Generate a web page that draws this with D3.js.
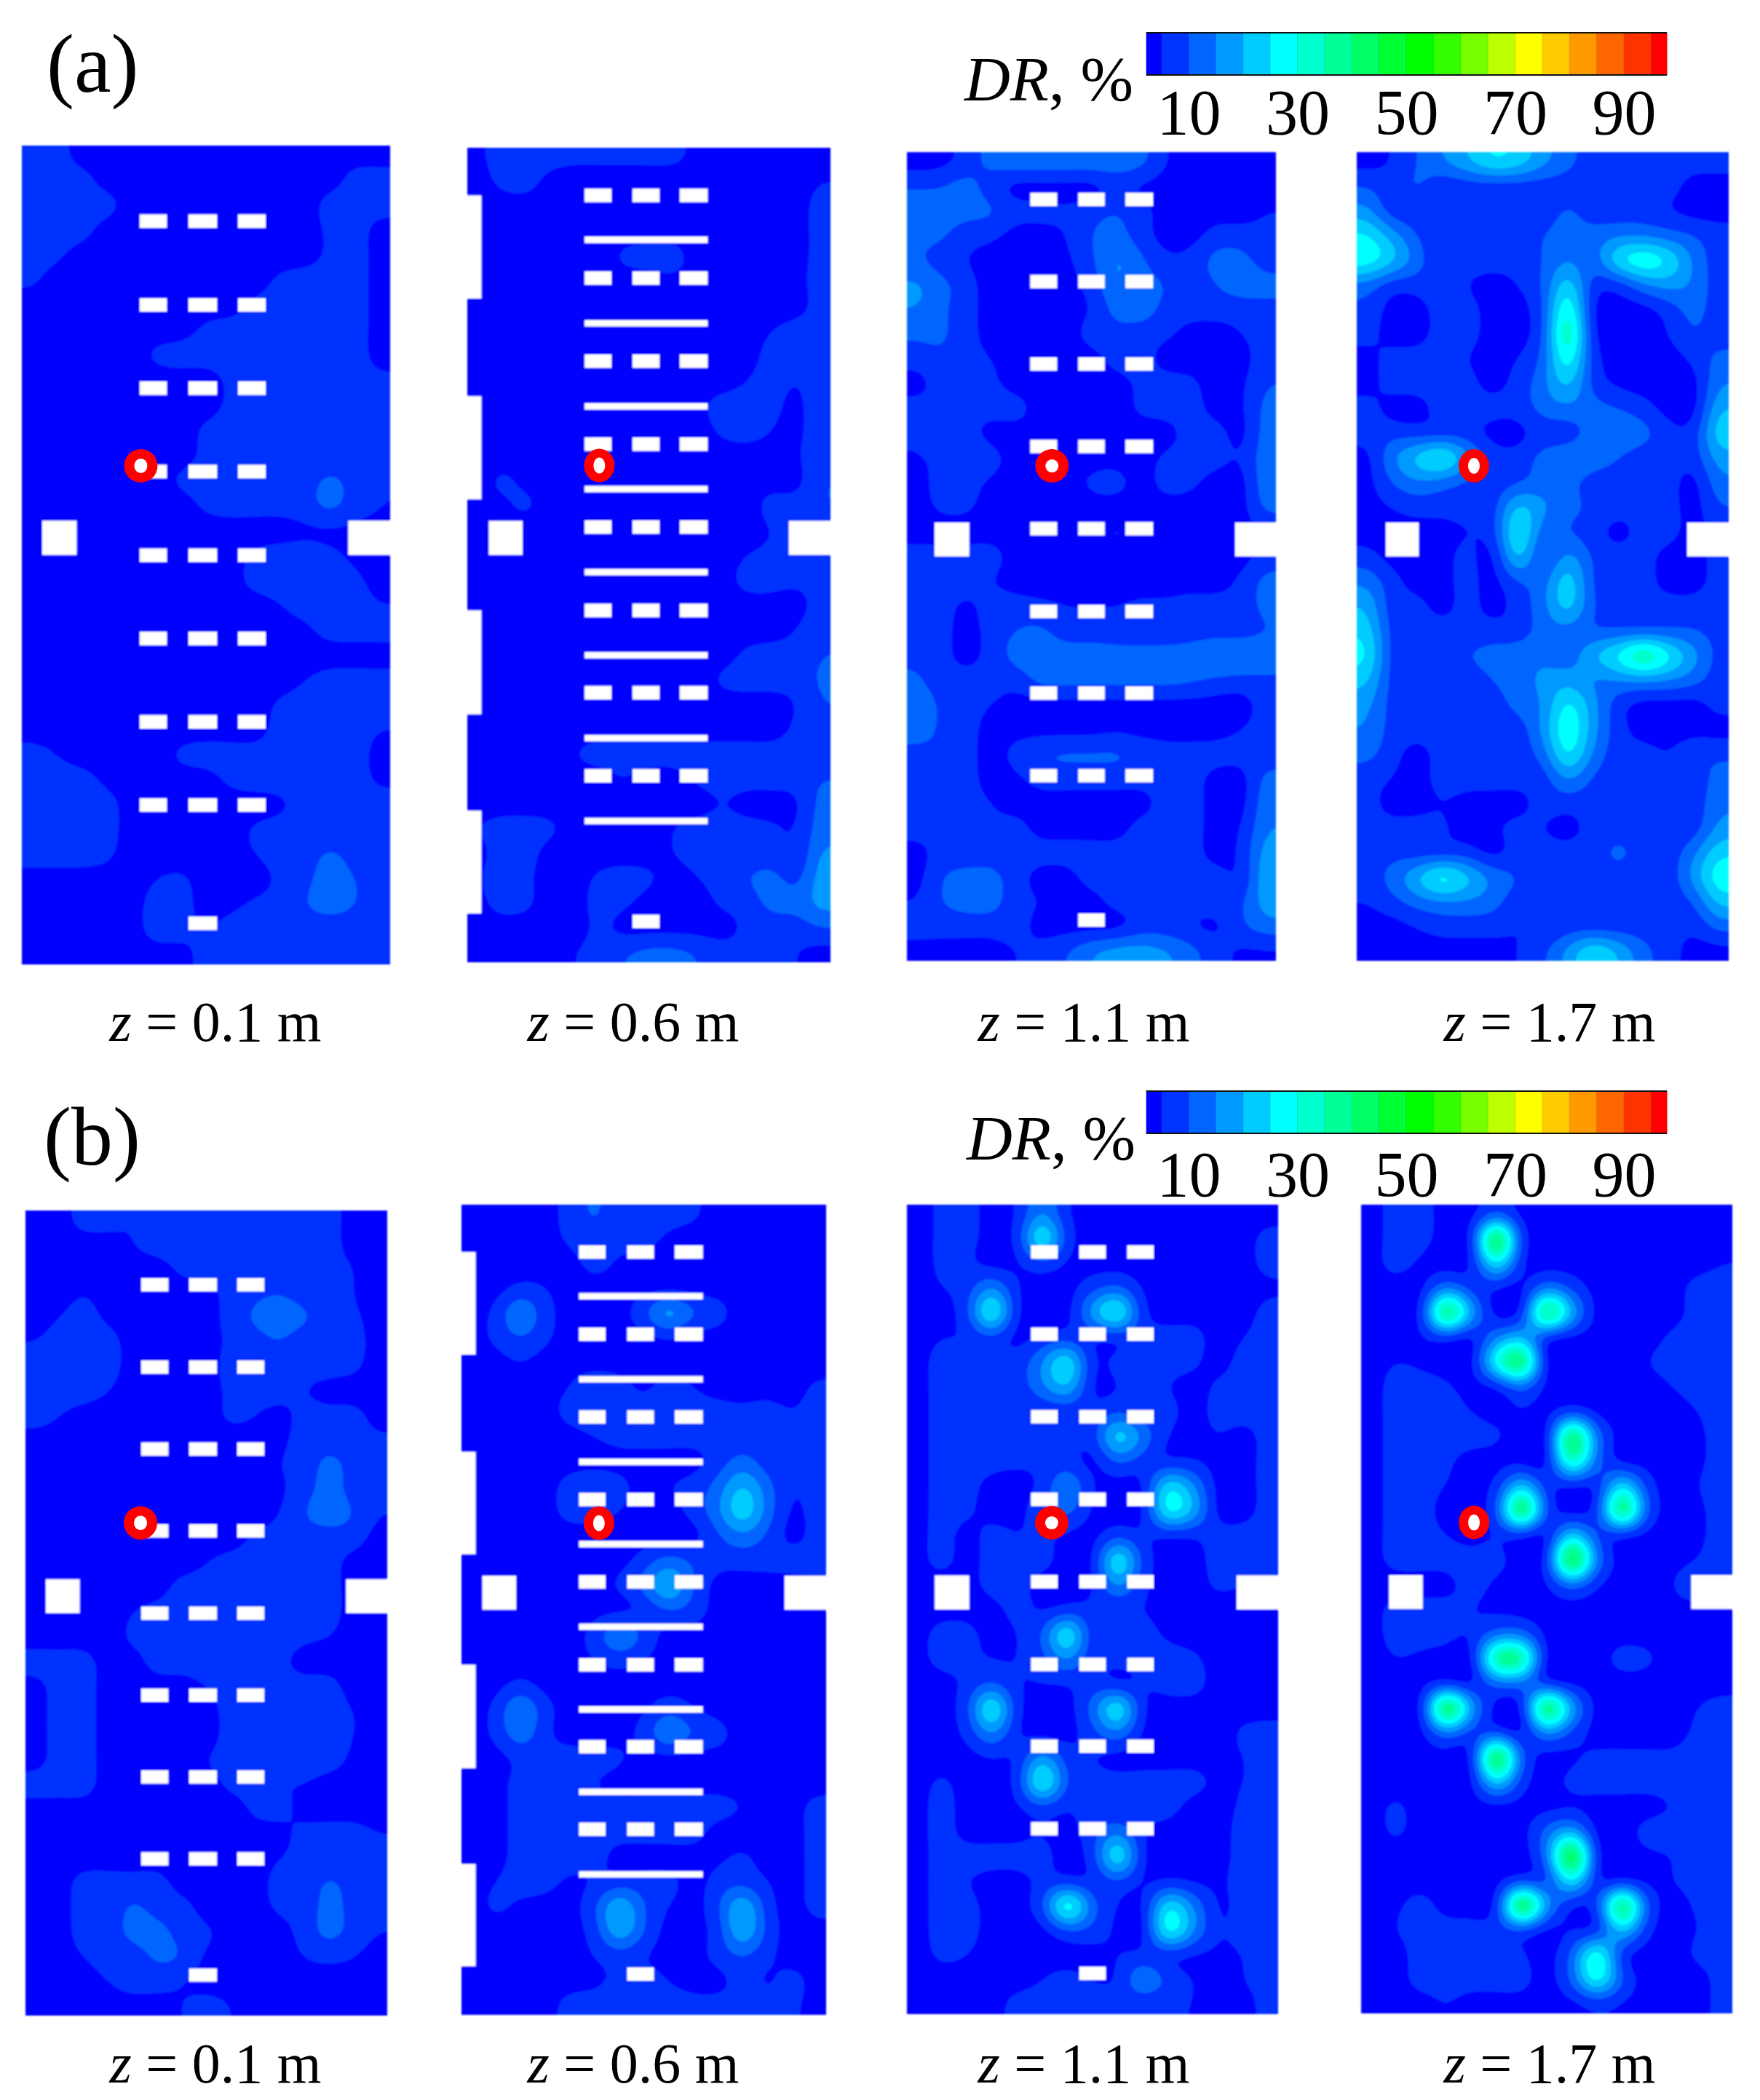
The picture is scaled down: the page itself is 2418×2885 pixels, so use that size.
<!DOCTYPE html>
<html><head><meta charset="utf-8">
<script src="https://cdn.jsdelivr.net/npm/d3@7"></script>
<style>html,body{margin:0;padding:0;background:#fff}svg{display:block}text{font-family:"Liberation Serif",serif;fill:#000}</style>
</head><body><svg id="chart" width="2418" height="2885"></svg>
<script>
// DR (%) on a 15 x 33 lattice, one array per slice
const fieldA1=[
[7,7,3,3,3,3,3,3,3,3,3,3,3,3,3],
[7,7,7,3,3,3,3,3,3,3,3,3,3,7,7],
[7,7,7,7,3,3,3,3,3,3,3,3,7,7,7],
[7,7,7,3,3,3,3,3,3,3,3,3,6,7,3],
[7,6,3,3,3,3,3,3,3,3,3,3,6,7,3],
[6,3,3,3,3,3,3,3,3,3,6,7,7,7,3],
[3,3,3,3,3,3,3,3,3,6,7,7,7,7,3],
[3,3,3,3,3,3,3,6,7,7,7,7,7,7,3],
[3,3,3,3,3,6,7,7,7,7,7,7,7,7,3],
[3,3,3,3,3,3,3,3,6,7,7,7,7,7,6],
[3,3,3,3,3,3,3,3,6,7,7,7,7,7,7],
[3,3,3,3,3,3,3,6,7,7,7,7,7,7,7],
[3,3,3,3,3,3,3,6,7,7,7,7,7,7,6],
[3,3,3,3,3,3,6,7,7,7,7,8,11,8,5],
[3,3,3,3,3,3,3,6,7,7,7,8,12,7,5],
[3,3,3,3,3,3,3,3,3,3,3,4,4,4,4],
[3,3,3,3,3,3,3,3,3,6,7,7,6,4,3],
[3,3,3,3,3,3,3,3,3,7,7,7,7,6,3],
[3,3,3,3,3,3,3,3,3,3,5,7,7,7,5],
[3,3,3,3,3,3,3,3,3,3,3,4,7,7,7],
[3,3,3,3,3,3,3,3,3,3,3,3,3,3,3],
[3,3,3,3,3,3,3,3,3,3,3,5,7,7,7],
[3,3,3,3,3,3,3,3,3,3,6,7,7,7,7],
[3,3,3,3,3,3,3,3,3,3,7,7,7,7,5],
[7,5,3,3,3,3,6,7,7,7,7,7,7,7,3],
[7,7,7,4,3,3,3,3,6,7,7,7,7,7,4],
[7,7,7,7,3,3,3,3,3,3,4,7,7,7,7],
[7,7,7,7,3,3,3,3,3,6,7,7,7,7,7],
[7,7,7,6,3,3,3,3,3,5,7,8,11,8,7],
[3,3,3,3,3,5,6,3,3,3,6,9,12,10,7],
[3,3,3,3,3,7,7,3,4,6,7,10,12,10,7],
[3,3,3,3,3,7,6,5,7,7,7,7,7,7,7],
[3,3,3,3,3,3,4,6,7,7,7,5,6,7,7]];
const fieldA2=[
[4,7,9,7,6,6,6,6,6,4,3,3,3,3,3],
[3,6,7,3,3,3,3,3,3,3,3,3,3,3,5],
[3,3,3,3,3,3,3,3,3,3,3,3,3,3,7],
[3,3,3,3,3,3,3,3,3,3,3,3,3,3,7],
[3,3,3,3,3,3,6,7,7,3,3,3,3,3,7],
[3,3,3,3,3,3,3,3,4,3,3,3,3,3,8],
[3,3,3,3,3,3,3,3,3,3,3,3,3,3,7],
[3,3,3,3,3,3,3,3,3,3,3,3,5,7,7],
[3,3,3,3,3,3,3,3,3,3,3,3,7,7,7],
[3,3,3,3,3,3,3,3,3,3,3,5,7,5,8],
[3,3,3,3,3,3,3,3,3,4,7,7,7,3,10],
[3,3,3,3,3,3,3,3,3,3,6,7,5,3,10],
[3,3,3,3,3,3,3,3,3,3,3,3,3,4,10],
[3,6,4,3,3,3,3,3,3,3,3,3,3,3,10],
[3,4,6,3,3,3,3,3,3,3,3,3,7,7,10],
[3,3,3,3,3,3,3,3,3,3,3,3,5,7,7],
[3,3,3,3,3,3,3,3,3,3,3,5,6,6,5],
[3,3,3,3,3,3,3,3,3,3,3,7,7,6,7],
[3,3,3,3,3,3,3,3,3,3,3,3,3,3,7],
[3,3,3,3,3,3,3,3,3,3,3,3,3,5,9],
[3,3,3,3,3,3,3,3,3,3,3,6,7,7,10],
[3,3,3,3,3,3,3,3,3,3,6,7,7,7,11],
[3,3,3,3,3,3,3,3,3,3,3,3,3,5,10],
[3,3,3,3,3,3,3,3,3,3,3,3,3,6,9],
[3,3,3,3,5,7,7,7,7,7,7,7,7,7,7],
[3,3,3,3,3,3,5,3,3,6,7,7,7,7,10],
[3,3,3,3,3,3,3,3,3,3,5,3,3,4,12],
[5,7,7,6,3,3,3,3,5,7,7,7,6,5,13],
[3,7,7,3,3,3,3,3,5,7,7,7,7,5,16],
[3,10,6,3,3,6,7,6,3,5,7,10,12,8,18],
[3,7,6,3,3,7,6,3,3,3,6,7,12,12,17],
[3,3,3,3,3,6,3,3,3,3,3,6,7,7,10],
[3,3,3,3,5,7,10,12,12,10,7,7,7,5,3]];
const fieldA3=[
[3,3,7,12,14,14,14,14,14,12,5,3,3,3,3],
[9,10,12,7,3,3,3,3,6,4,3,3,3,3,3],
[15,12,12,11,7,7,6,8,10,7,3,3,3,3,5],
[12,11,7,6,3,3,5,10,12,7,3,3,7,7,6],
[11,7,5,3,3,3,4,9,16,11,6,7,12,12,7],
[16,12,7,3,3,3,3,7,15,12,10,7,10,13,12],
[15,11,7,3,3,3,3,5,12,13,8,7,7,7,8],
[11,11,7,3,3,3,3,7,8,7,6,3,3,5,7],
[7,9,7,5,3,3,3,3,7,7,3,3,3,3,8],
[3,7,7,6,3,3,3,3,3,6,7,6,3,4,10],
[7,7,7,7,7,3,3,3,3,6,7,7,3,4,12],
[7,11,7,3,3,3,3,3,3,3,3,7,7,3,13],
[4,7,10,7,3,3,3,3,3,3,6,7,7,5,14],
[3,7,7,4,3,3,3,6,7,3,7,6,3,3,14],
[3,6,6,3,3,3,3,3,3,3,3,3,3,3,12],
[3,3,3,3,3,3,3,3,6,3,3,3,3,3,5],
[7,7,7,7,3,3,3,3,3,3,3,3,3,3,7],
[7,7,7,5,3,3,3,3,3,3,3,3,3,6,12],
[10,7,4,7,7,6,5,5,5,6,6,7,7,7,12],
[9,7,3,7,10,11,7,7,7,7,7,7,7,7,10],
[9,7,3,7,12,13,13,13,12,12,12,13,16,16,13],
[11,7,7,7,7,12,12,12,12,12,12,11,9,8,9],
[14,9,7,5,3,3,3,3,3,3,3,3,3,3,7],
[13,9,7,3,3,3,3,3,4,3,3,3,3,5,7],
[8,9,7,3,7,10,11,11,11,9,7,7,7,7,7],
[7,8,7,3,4,7,7,7,7,7,7,7,3,3,12],
[7,7,7,5,3,3,3,3,3,3,7,7,3,3,14],
[7,7,10,6,7,3,3,3,3,7,7,7,3,5,15],
[3,7,7,7,7,7,7,7,7,7,7,7,3,6,18],
[3,10,12,12,7,3,3,7,7,7,7,7,7,5,20],
[5,10,12,12,7,5,3,3,7,7,7,7,7,9,18],
[7,7,7,7,7,3,3,3,3,7,7,5,4,9,13],
[3,3,3,3,5,7,10,15,18,18,16,12,7,4,4]];
const fieldA4=[
[3,5,10,15,20,26,24,17,12,7,7,7,7,7,7],
[10,7,11,6,7,7,7,7,7,7,7,7,7,3,3],
[17,7,7,7,7,7,7,7,11,7,7,7,5,3,3],
[26,18,10,5,7,7,7,10,12,12,14,14,12,10,7],
[29,22,13,5,7,7,7,10,15,12,25,30,25,14,7],
[13,7,7,7,5,3,5,10,24,7,7,14,17,14,7],
[9,3,3,7,7,3,3,9,32,4,3,3,7,12,7],
[7,3,3,7,7,3,3,9,37,5,3,3,5,10,7],
[3,7,7,7,5,3,5,11,30,7,3,3,3,6,12],
[3,7,7,7,7,3,7,13,22,8,4,3,3,3,15],
[7,3,3,7,7,7,7,12,14,12,10,7,3,3,20],
[7,8,7,7,7,3,3,7,7,12,14,12,7,7,24],
[3,14,22,28,17,8,7,12,14,14,10,7,7,7,18],
[3,10,14,12,9,7,9,12,12,7,7,7,7,3,14],
[3,5,7,7,7,7,22,16,12,9,7,7,7,3,10],
[3,3,3,3,5,7,27,12,10,7,3,7,7,3,7],
[7,3,3,3,7,3,23,8,17,9,7,7,3,3,7],
[14,7,3,3,7,3,10,12,24,9,7,7,3,3,7],
[20,7,7,3,7,3,7,13,23,10,7,7,7,7,7],
[24,8,7,7,7,7,7,12,13,10,10,10,10,10,8],
[27,8,7,7,10,12,13,14,12,20,27,37,27,17,8],
[22,8,7,7,7,10,13,16,18,14,15,16,15,12,7],
[17,8,7,7,7,7,12,15,27,17,7,3,3,3,7],
[15,8,7,7,7,7,7,16,30,17,7,3,3,3,3],
[12,7,3,7,7,7,7,12,27,14,7,7,5,9,9],
[7,5,3,7,7,7,7,7,16,9,7,7,7,7,12],
[7,3,3,5,3,3,3,7,7,7,7,7,7,7,14],
[7,7,7,6,3,4,7,5,3,7,7,7,7,7,17],
[7,8,7,7,7,3,7,7,7,7,12,7,7,14,24],
[7,12,20,29,22,14,10,7,7,7,7,7,7,17,29],
[5,8,12,14,14,12,7,7,7,7,7,7,7,10,22],
[3,3,5,7,7,7,5,5,7,7,7,7,7,6,12],
[3,3,3,3,3,3,5,9,17,26,20,12,7,3,3]];
const fieldB1=[
[3,3,7,7,5,6,7,7,7,7,7,7,7,3,3],
[3,3,3,3,5,7,7,7,7,7,7,7,7,3,3],
[3,3,3,3,3,3,6,7,7,7,7,7,7,5,3],
[3,3,5,3,3,3,3,3,7,9,10,8,7,5,3],
[3,5,7,4,3,3,3,3,7,11,12,11,7,6,3],
[5,7,7,7,3,3,3,3,6,8,10,7,7,7,3],
[7,7,7,7,3,3,3,3,7,7,7,7,7,6,3],
[7,7,7,5,3,3,3,3,6,7,7,5,3,3,3],
[7,5,3,3,3,3,3,3,6,5,3,7,7,7,3],
[3,3,3,3,3,3,3,3,3,3,4,7,8,7,6],
[3,3,3,3,3,3,3,3,3,3,5,7,12,8,6],
[3,3,3,3,3,3,3,3,3,3,4,8,12,8,6],
[3,3,3,3,3,3,3,3,3,3,5,10,13,10,5],
[3,3,3,3,3,3,3,3,3,6,7,7,7,7,3],
[3,3,3,3,3,3,3,5,7,7,7,7,7,3,3],
[3,3,3,3,3,3,7,7,7,10,8,7,7,3,3],
[3,3,3,3,5,7,7,7,7,7,7,7,7,3,3],
[3,3,3,3,6,7,7,5,7,7,7,6,5,3,3],
[7,7,7,3,3,7,7,7,7,7,6,3,3,3,3],
[3,7,7,3,3,3,3,5,7,7,7,7,7,3,3],
[3,7,7,3,3,3,3,3,7,8,7,7,7,5,3],
[3,7,7,3,3,3,3,3,7,11,8,7,7,5,3],
[3,7,7,3,3,3,3,5,7,7,7,7,7,4,3],
[7,7,7,3,3,3,3,3,6,6,5,5,3,3,3],
[3,3,3,3,3,3,3,3,3,6,7,3,3,3,3],
[3,3,3,3,3,3,3,3,3,3,3,7,7,7,5],
[3,3,3,3,3,3,3,3,3,3,5,7,7,7,7],
[3,3,7,7,7,7,3,3,3,3,7,7,11,8,7],
[3,3,7,7,11,8,7,3,3,3,6,7,12,8,6],
[3,3,7,7,12,12,8,6,3,3,3,7,12,8,5],
[3,3,5,7,7,11,10,4,3,3,3,5,6,5,3],
[3,3,3,5,7,7,5,3,3,3,3,3,3,3,3],
[3,3,3,3,3,3,5,7,5,3,3,3,3,3,3]];
const fieldB2=[
[3,3,3,3,7,11,7,7,7,6,3,3,3,3,3],
[3,3,3,3,6,8,7,7,4,3,3,3,3,3,3],
[3,3,3,3,3,7,4,3,3,3,3,3,3,3,3],
[3,3,6,5,3,3,3,3,3,3,3,3,3,3,3],
[3,6,16,7,3,3,3,9,19,11,7,3,3,3,3],
[3,6,10,6,3,3,3,3,5,3,3,3,3,3,3],
[3,3,5,3,3,3,3,3,3,3,3,3,3,3,3],
[3,3,3,3,5,9,7,4,7,5,3,3,3,3,6],
[3,3,3,3,7,9,7,7,7,7,7,6,7,5,7],
[3,3,3,3,3,5,7,7,7,7,7,7,7,7,7],
[3,3,3,3,3,3,3,3,3,3,7,12,7,6,7],
[3,3,3,3,7,9,7,3,5,7,12,21,12,5,7],
[3,3,3,3,7,7,5,3,3,7,14,25,13,4,7],
[3,3,3,3,3,3,3,3,3,3,9,14,9,3,7],
[3,3,3,3,3,3,3,7,12,9,7,7,7,7,7],
[3,3,3,3,3,3,6,12,22,10,3,3,3,3,4],
[3,3,3,3,3,3,3,5,10,8,3,3,3,3,3],
[3,3,3,3,3,7,16,9,3,3,3,3,3,3,3],
[3,3,3,3,3,5,7,5,3,3,3,3,3,3,3],
[3,3,6,3,3,3,3,3,3,3,3,3,3,3,3],
[3,6,16,7,3,3,3,4,8,5,3,3,3,3,3],
[3,6,14,6,3,3,3,7,16,10,7,3,3,3,3],
[3,3,6,7,7,7,6,3,3,3,3,3,3,3,3],
[3,3,7,7,7,5,3,3,3,3,3,3,3,3,3],
[3,3,7,7,7,7,7,7,7,7,7,5,3,3,7],
[3,3,7,7,8,7,7,7,7,7,3,3,3,3,7],
[3,3,7,7,7,7,3,3,3,3,4,6,3,3,7],
[3,5,7,7,4,5,7,7,7,3,7,8,5,3,7],
[3,6,4,3,3,9,21,10,5,3,9,21,7,3,7],
[3,3,3,3,3,7,20,10,3,3,7,21,8,3,3],
[3,3,3,3,3,5,7,5,3,3,7,10,6,3,3],
[3,3,3,3,3,4,6,7,5,3,3,7,4,7,3],
[3,3,3,3,7,7,7,7,7,7,7,7,7,6,3]];
const fieldB3=[
[3,6,7,3,5,15,5,3,3,3,3,3,3,3,3],
[3,6,7,3,6,29,7,3,3,3,3,3,3,3,7],
[3,6,6,3,4,8,4,3,3,3,3,3,3,3,7],
[3,5,7,16,5,3,3,8,11,4,3,3,3,3,4],
[3,3,8,30,5,3,3,18,30,6,3,3,3,3,7],
[3,5,5,8,3,6,7,5,5,7,7,7,3,5,7],
[3,7,6,7,7,15,27,5,7,7,7,6,3,7,7],
[3,7,7,7,7,14,21,4,5,7,5,3,6,7,7],
[3,7,7,5,6,5,6,6,9,6,7,3,7,7,7],
[3,7,7,7,7,7,7,7,25,14,5,3,5,3,7],
[3,7,7,7,6,6,7,3,11,7,5,5,3,3,7],
[3,7,7,3,3,6,16,5,3,4,25,16,3,3,7],
[3,7,6,3,3,9,12,4,3,4,29,20,3,3,7],
[3,7,3,7,5,6,4,3,8,5,5,5,7,7,7],
[3,7,3,7,7,7,3,4,28,8,3,3,7,7,7],
[3,3,3,7,7,3,3,4,17,6,3,3,6,5,5],
[3,3,3,3,7,4,6,6,5,5,3,3,3,3,3],
[3,7,7,3,5,10,28,6,7,7,4,3,3,3,3],
[3,7,6,5,5,8,16,6,7,7,7,6,3,3,3],
[3,3,6,10,5,5,5,7,4,5,7,7,3,3,3],
[3,3,8,29,6,3,3,12,28,5,3,3,3,3,3],
[3,3,6,16,5,3,3,8,14,4,3,3,3,6,7],
[3,3,3,5,5,18,7,5,3,3,3,3,3,5,7],
[3,6,3,3,6,30,9,7,7,7,7,7,4,5,7],
[3,7,3,3,4,8,5,7,5,7,7,3,3,6,7],
[3,7,3,3,3,5,3,8,14,5,3,3,3,7,7],
[3,7,7,7,7,7,3,7,28,5,3,3,3,7,7],
[3,7,5,3,3,6,6,5,9,4,5,4,4,7,7],
[3,7,7,3,3,9,33,12,5,4,26,15,4,7,7],
[3,7,7,3,3,3,9,8,4,3,30,16,5,7,7],
[3,6,5,3,3,3,3,3,5,6,5,4,4,5,7],
[3,3,3,3,3,5,7,5,5,16,9,5,3,5,7],
[3,3,3,3,7,7,7,7,7,5,5,5,3,3,7]];
const fieldB4=[
[3,7,7,3,3,8,3,3,3,3,3,3,3,3,3],
[3,7,7,3,5,50,7,3,3,3,3,3,3,3,3],
[3,7,4,3,4,27,5,3,3,3,3,3,3,3,5],
[3,3,3,14,7,5,3,14,8,3,3,3,3,7,7],
[3,3,5,46,19,3,5,45,20,3,3,3,3,7,7],
[3,3,4,6,3,14,20,5,3,3,3,3,6,7,7],
[3,5,4,3,3,30,46,3,3,3,3,5,7,7,7],
[3,7,7,6,3,4,12,3,3,3,3,3,5,7,7],
[3,7,7,7,5,3,5,3,7,3,3,3,3,5,7],
[3,7,7,7,7,6,3,3,47,13,3,3,3,4,7],
[3,7,7,6,3,3,3,3,36,12,3,3,3,4,7],
[3,7,7,5,3,6,22,6,5,5,25,7,3,5,7],
[3,7,7,3,3,9,48,9,3,7,46,10,3,4,7],
[3,7,7,5,3,5,5,3,23,8,5,3,3,4,7],
[3,7,7,7,7,7,3,6,52,14,3,3,4,5,7],
[3,3,3,3,7,4,3,4,13,5,3,3,5,7,7],
[3,7,7,7,5,4,3,3,3,3,3,3,4,4,3],
[3,7,7,7,5,12,12,3,3,3,3,3,3,3,3],
[3,5,4,3,3,40,40,3,3,3,7,6,3,3,3],
[3,3,3,5,3,12,12,5,3,3,3,3,3,3,3],
[3,3,4,49,19,3,4,47,19,3,3,3,3,5,7],
[3,3,3,14,7,8,3,16,8,3,3,3,3,6,7],
[3,3,3,3,4,50,11,3,4,6,6,6,6,7,7],
[3,3,3,3,3,24,7,3,7,7,7,7,7,7,7],
[3,6,3,3,3,3,3,3,4,3,3,3,5,7,7],
[3,6,3,3,3,3,3,12,19,3,3,7,7,7,7],
[3,3,3,3,3,3,3,13,52,5,3,4,5,7,7],
[3,3,3,3,3,3,7,7,27,5,4,3,5,7,7],
[3,4,7,3,3,5,50,18,5,8,46,10,3,6,7],
[3,5,7,7,7,7,8,3,5,5,23,6,3,5,7],
[3,3,7,7,7,7,6,3,11,32,6,3,3,6,7],
[3,3,7,7,7,7,7,3,11,30,10,3,3,3,7],
[3,3,3,5,3,3,3,3,3,5,4,3,3,3,7]];

const bandEdges=[5,10,15,20,25,30,35,40,45,50,55,60,65,70,75,80,85,90,95];
const bandColors=["#0000ff","#0033ff","#0066ff","#0099ff","#00ccff","#00ffff","#00ffcc","#00ff99","#00ff66","#00ff33","#00ff00","#33ff00","#77ff00","#bbff00","#ffff00","#ffcc00","#ff9900","#ff6600","#ff3300","#ff0000"];
const barTicks=[10,30,50,70,90];
const slices=["0.1","0.6","1.1","1.7"];

// room layout, as fractions of a slice
const rowsWide=[.0923,.1946,.2963,.398,.5003,.602,.7037,.8053];
const rowsLow=[.0585,.16,.262,.364,.4657,.568,.669,.771];
const louvres=[.113,.2155,.3175,.419,.521,.623,.7248,.8266];
const inletsA=[[.0585,.185],[.305,.4315],[.5679,.6956],[.8138,.94]];
const panels=[
{f:fieldA1,z:0,box:[30,536,200,1325],rows:rowsWide,cols:[[.32,.394],[.4525,.53],[.587,.662]],sq:[.055,.149],nt:.886,ring:[.323,.391,23,23,9,10],lx:296,ly:1430},
{f:fieldA2,z:1,box:[642,1141,203,1322],rows:rowsLow,cols:[[.323,.397],[.455,.529],[.585,.662]],sq:[.059,.152],nt:.885,ring:[.3635,.39,21,23,8,11],lines:louvres,inlets:inletsA,lx:870,ly:1430},
{f:fieldA3,z:2,box:[1246,1753,209,1320],rows:rowsLow,cols:[[.334,.407],[.464,.536],[.592,.667]],sq:[.075,.169],nt:.889,ring:[.393,.388,23,23,9,9],lx:1489,ly:1430},
{f:fieldA4,z:3,box:[1864,2375,209,1320],rows:[],cols:[],sq:[.078,.167],nt:.888,ring:[.315,.388,21,23,8,11],lx:2129,ly:1430},
{f:fieldB1,z:0,box:[35,532,1663,2769],rows:rowsWide,cols:[[.32,.395],[.452,.529],[.585,.66]],sq:[.056,.15],nt:.886,ring:[.318,.388,23,23,9,10],lx:296,ly:2861},
{f:fieldB2,z:1,box:[634,1135,1655,2768],rows:rowsLow,cols:[[.322,.395],[.454,.528],[.585,.662]],sq:[.057,.15],nt:.886,ring:[.377,.393,21,23,8,11],lines:louvres,inlets:inletsA,lx:870,ly:2861},
{f:fieldB3,z:2,box:[1246,1756,1655,2767],rows:rowsLow,cols:[[.334,.406],[.464,.536],[.593,.665]],sq:[.075,.168],nt:.888,ring:[.39,.393,23,23,9,9],lx:1489,ly:2861},
{f:fieldB4,z:3,box:[1870,2380,1655,2766],rows:[],cols:[],sq:[.075,.166],nt:.889,ring:[.304,.393,21,23,8,11],lx:2129,ly:2861}
];
const svg=d3.select("#chart");
const defs=svg.append("defs");
defs.append("filter").attr("id","soft").attr("x","-2%").attr("y","-2%").attr("width","104%").attr("height","104%")
 .append("feGaussianBlur").attr("stdDeviation",1);
const color=d3.scaleThreshold().domain(bandEdges).range(bandColors);
const K=8;

// Catmull-Rom weights for the smooth surface through the lattice values
function weights(t){const t2=t*t,t3=t2*t;return [(-t3+2*t2-t)/2,(3*t3-5*t2+2)/2,(-3*t3+4*t2+t)/2,(t3-t2)/2];}
function refine(field){
  const R=field.length,C=field[0].length,W=C*K,H=R*K,out=new Float64Array(W*H);
  for(let y=0;y<H;y++){
    const gy=Math.min(R-1,Math.max(0,(y+.5)/K-.5)),iy=Math.min(R-2,Math.floor(gy)),wy=weights(gy-iy);
    for(let x=0;x<W;x++){
      const gx=Math.min(C-1,Math.max(0,(x+.5)/K-.5)),ix=Math.min(C-2,Math.floor(gx)),wx=weights(gx-ix);
      let s=0;
      for(let a=0;a<4;a++){
        const row=field[Math.max(0,Math.min(R-1,iy+a-1))];
        for(let b=0;b<4;b++) s+=wy[a]*wx[b]*row[Math.max(0,Math.min(C-1,ix+b-1))];
      }
      out[y*W+x]=Math.max(0,s);
    }
  }
  if(d3.blur2) d3.blur2({data:out,width:W,height:H},2);
  return {W,H,out};
}

panels.forEach((p,i)=>{
  const [x0,x1,y0,y1]=p.box;
  const u=d3.scaleLinear().domain([0,1]).range([x0,x1]);
  const v=d3.scaleLinear().domain([0,1]).range([y0,y1]);
  const g=svg.append("g");
  const id="clip"+i;
  defs.append("clipPath").attr("id",id).append("rect").attr("x",x0).attr("y",y0).attr("width",x1-x0).attr("height",y1-y0);
  const body=g.append("g").attr("filter","url(#soft)");
  const field=body.append("g").attr("clip-path",`url(#${id})`);
  field.append("rect").attr("x",x0).attr("y",y0).attr("width",x1-x0).attr("height",y1-y0).attr("fill",bandColors[0]);
  const {W,H,out}=refine(p.f);
  const sx=d3.scaleLinear().domain([1,W-1]).range([x0,x1]);
  const sy=d3.scaleLinear().domain([1,H-1]).range([y0,y1]);
  const path=d3.geoPath(d3.geoTransform({point(a,b){this.stream.point(sx(a),sy(b));}}));
  const polys=d3.contours().size([W,H]).thresholds(bandEdges)(Array.from(out));
  field.selectAll("path").data(polys.filter(c=>c.coordinates.length)).join("path")
    .attr("d",d=>path(d)).attr("fill",c=>color(c.value));
  const holes=[];
  p.rows.forEach(r=>p.cols.forEach(c=>holes.push([c[0],c[1],r-.0083,r+.0083])));
  if(p.cols.length) holes.push([p.cols[1][0],p.cols[1][1],.9415,.958]);
  (p.lines||[]).forEach(r=>holes.push([p.cols[0][0],p.cols[2][1],r-.004,r+.004]));
  (p.inlets||[]).forEach(r=>holes.push([-.01,.039,r[0],r[1]]));
  holes.push([p.sq[0],p.sq[1],.458,.5]);
  holes.push([p.nt,1.01,.458,.5]);
  body.append("g").selectAll("rect").data(holes).join("rect")
    .attr("x",d=>u(d[0])).attr("y",d=>v(d[2])).attr("width",d=>u(d[1])-u(d[0])).attr("height",d=>v(d[3])-v(d[2])).attr("fill","#fff");
  const [ru,rv,orx,ory,irx,iry]=p.ring;
  g.append("ellipse").attr("cx",u(ru)).attr("cy",v(rv)).attr("rx",orx).attr("ry",ory).attr("fill","#ff0000");
  g.append("ellipse").attr("cx",u(ru)).attr("cy",v(rv)).attr("rx",irx).attr("ry",iry).attr("fill","#fff");
  const t=svg.append("text").attr("x",p.lx).attr("y",p.ly).attr("text-anchor","middle").attr("font-size",78);
  t.append("tspan").attr("font-style","italic").text("z");
  t.append("tspan").text(" = "+slices[p.z]+" m");
});

const barX=d3.scaleLinear().domain([10,90]).range([1633,2231]);
function colorbar(top,tickBase,labelBase,labelX){
  const dom=[2.2].concat(bandEdges,[97.9]);
  const b=svg.append("g");
  b.selectAll("rect").data(bandColors).join("rect")
    .attr("x",(d,i)=>barX(dom[i])).attr("width",(d,i)=>barX(dom[i+1])-barX(dom[i])+.5)
    .attr("y",top).attr("height",58).attr("fill",d=>d);
  b.selectAll("line.sep").data(bandEdges).join("line").attr("class","sep")
    .attr("x1",d=>barX(d)).attr("x2",d=>barX(d)).attr("y1",top).attr("y2",top+58).attr("stroke","#000").attr("stroke-opacity",.12);
  [top,top+58].forEach(y=>b.append("line").attr("x1",barX(2.2)).attr("x2",barX(97.9)).attr("y1",y).attr("y2",y).attr("stroke","#111").attr("stroke-width",2));
  const ax=svg.append("g").attr("transform",`translate(0,${tickBase})`)
    .call(d3.axisBottom(barX).tickValues(barTicks).tickSize(0).tickPadding(0));
  ax.select(".domain").remove();
  ax.selectAll("text").attr("font-size",88).attr("font-family","Liberation Serif").attr("dy",0).attr("y",0).attr("fill","#000");
  const l=svg.append("text").attr("x",labelX).attr("y",labelBase).attr("font-size",87);
  l.append("tspan").attr("font-style","italic").text("DR");
  l.append("tspan").text(", %");
}
colorbar(45,184,138,1325);
colorbar(1499,1643,1593,1328);
svg.append("text").attr("x",64).attr("y",126).attr("font-size",114).text("(a)");
svg.append("text").attr("x",60).attr("y",1600).attr("font-size",114).text("(b)");
</script></body></html>
